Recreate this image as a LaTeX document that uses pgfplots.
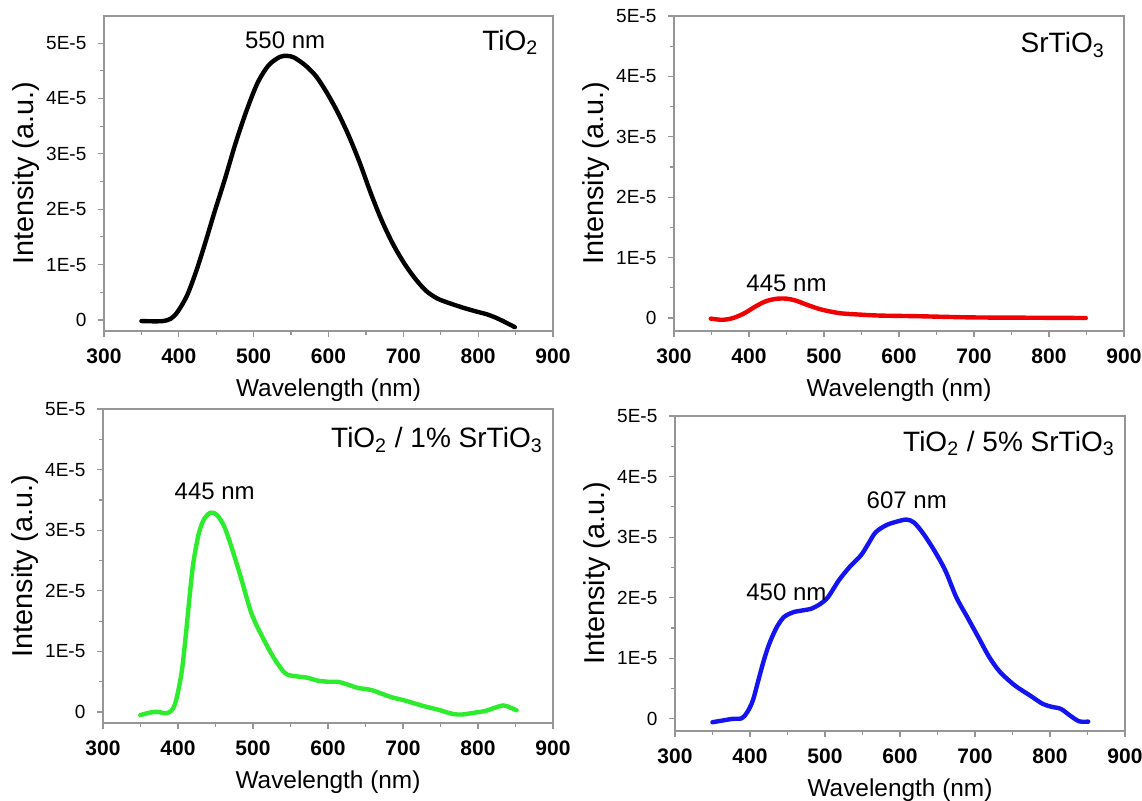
\documentclass[border=0pt]{standalone}
\usepackage{fontspec}
\setmainfont{Liberation Sans}
\usepackage{pgfplots}
\pgfplotsset{compat=1.18}

\definecolor{axgray}{RGB}{150,150,150}
\definecolor{plred}{RGB}{240,0,0}
\definecolor{plgreen}{RGB}{45,235,45}
\definecolor{plblue}{RGB}{20,20,240}

\tikzset{
  ann/.style={font=\fontsize{12}{14}\selectfont, anchor=base},
  ttl/.style={font=\fontsize{14}{16}\selectfont, anchor=base east, inner sep=0pt},
}

\pgfplotsset{
  pl/.style={
    scale only axis,
    width=225pt, height=157.5pt,
    xmin=300, xmax=900,
    xtick={300,400,500,600,700,800,900},
    xticklabels={300,400,500,600,700,800,900},
    minor x tick num=1,
    ytick={0,1e-5,2e-5,3e-5,4e-5,5e-5},
    yticklabels={0,1E-5,2E-5,3E-5,4E-5,5E-5},
    scaled y ticks=false,
    minor y tick num=1,
    tick align=outside,
    tick pos=left,
    axis line style={axgray, line width=0.6pt},
    every tick/.style={axgray, line width=0.6pt},
    major tick length=3pt,
    minor tick length=1.8pt,
    xticklabel style={font=\fontsize{10.5}{12}\selectfont\bfseries, yshift=-2.5pt},
    yticklabel style={font=\fontsize{9.5}{11}\selectfont, xshift=-2.3pt},
    xlabel={Wavelength (nm)},
    ylabel={Intensity (a.u.)},
    xlabel style={font=\fontsize{12.2}{14}\selectfont, at={(axis description cs:0.5,-0.2095)}, anchor=base},
    ylabel style={font=\fontsize{14.4}{16}\selectfont, at={(axis description cs:-0.156,0.5)}, anchor=base},
    clip=false,
  },
  curve/.style={line width=2.2pt, smooth, line join=round, line cap=round, no markers},
}

\begin{document}
\begin{tikzpicture}
\useasboundingbox (0,0) rectangle (571pt,-400.5pt);

% TiO2
\begin{axis}[pl, at={(52pt,-165.5pt)}, anchor=south west, width=224.5pt, ymin=-0.2e-5, ymax=5.49e-5]
\addplot[curve, black] coordinates {
(350,-0.02e-5) (365,-0.025e-5) (379,-0.02e-5) (389,0.02e-5) (398,0.14e-5)
(410.6,0.43e-5) (422.7,0.86e-5) (435,1.38e-5) (447,1.92e-5) (461.7,2.55e-5)
(476,3.2e-5) (491,3.8e-5) (505.5,4.29e-5) (520,4.6e-5) (534.8,4.75e-5)
(544.5,4.77e-5) (554,4.74e-5) (568.9,4.6e-5) (583.5,4.4e-5) (598,4.1e-5)
(612.7,3.74e-5) (627.3,3.32e-5) (642,2.83e-5) (656.5,2.29e-5) (671,1.8e-5)
(685.8,1.38e-5) (700.4,1.04e-5) (715,0.76e-5) (730,0.53e-5) (745,0.39e-5)
(760,0.31e-5) (780,0.22e-5) (798,0.15e-5) (812,0.1e-5) (827,0.02e-5) (849,-0.13e-5)
};
\node[ann] at (axis cs:542,4.9e-5) {550 nm};
\node[ttl] at (rel axis cs:0.968,0.892) {TiO\textsubscript{2}};
\end{axis}

% SrTiO3
\begin{axis}[pl, at={(337pt,-165.5pt)}, anchor=south west, ymin=-0.215e-5, ymax=5e-5]
\addplot[curve, plred] coordinates {
(349,-0.01e-5) (364.5,-0.03e-5) (379,0) (394,0.08e-5) (408.5,0.19e-5)
(423,0.28e-5) (438,0.32e-5) (450,0.32e-5) (462,0.29e-5) (477,0.22e-5)
(496.6,0.14e-5) (521,0.08e-5) (550,0.055e-5) (575,0.04e-5) (624,0.03e-5)
(697,0.01e-5) (770,0.005e-5) (849,0)
};
\node[ann] at (axis cs:450,0.44e-5) {445 nm};
\node[ttl] at (rel axis cs:0.958,0.8825) {SrTiO\textsubscript{3}};
\end{axis}

% TiO2 / 1% SrTiO3
\begin{axis}[pl, at={(51.5pt,-361.5pt)}, anchor=south west, height=157pt, ymin=-0.18e-5, ymax=5e-5]
\addplot[curve, plgreen] coordinates {
(349.7,-0.05e-5) (361.9,-0.01e-5) (371.6,0.005e-5) (383.8,-0.02e-5) (391,0.02e-5)
(396,0.13e-5) (400.8,0.38e-5) (405.7,0.73e-5) (410.6,1.29e-5) (415.4,1.9e-5)
(420.3,2.45e-5) (427.6,2.94e-5) (435,3.19e-5) (443.7,3.29e-5) (452,3.25e-5)
(461.7,3.06e-5) (471.4,2.72e-5) (483.6,2.23e-5) (498.2,1.62e-5) (512.9,1.23e-5)
(527.5,0.9e-5) (542,0.65e-5) (551.8,0.6e-5) (571.3,0.57e-5) (585.9,0.52e-5)
(600.5,0.5e-5) (612.7,0.5e-5) (624.9,0.46e-5) (639.5,0.4e-5) (659,0.36e-5)
(683.3,0.25e-5) (702.8,0.19e-5) (727.2,0.1e-5) (746.7,0.04e-5) (766.2,-0.03e-5)
(778.4,-0.04e-5) (795.4,-0.01e-5) (810,0.02e-5) (822,0.07e-5) (834,0.11e-5)
(844,0.07e-5) (851.4,0.03e-5)
};
\node[ann] at (axis cs:449,3.51e-5) {445 nm};
\node[ttl] at (rel axis cs:0.978,0.876) {TiO\textsubscript{2} / 1\% SrTiO\textsubscript{3}};
\end{axis}

% TiO2 / 5% SrTiO3
\begin{axis}[pl, at={(337.5pt,-365.5pt)}, anchor=south west, ymin=-0.2e-5, ymax=5e-5]
\addplot[curve, plblue] coordinates {
(349.9,-0.055e-5) (362,-0.03e-5) (376.8,0) (389,0.01e-5) (396.3,0.11e-5)
(403.7,0.3e-5) (411,0.63e-5) (418.3,0.96e-5) (425.7,1.24e-5) (435.5,1.51e-5)
(445.2,1.68e-5) (457.5,1.76e-5) (469.7,1.79e-5) (481.9,1.82e-5) (494,1.9e-5)
(504,2.01e-5) (518.6,2.29e-5) (533,2.51e-5) (547.9,2.7e-5) (557.7,2.89e-5)
(567.5,3.08e-5) (582,3.2e-5) (596.8,3.26e-5) (609,3.29e-5) (618.8,3.24e-5)
(631,3.06e-5) (645.7,2.78e-5) (660.4,2.45e-5) (675,2.01e-5) (689.7,1.68e-5)
(704.4,1.35e-5) (719,1.02e-5) (733.7,0.77e-5) (753.3,0.55e-5) (772.9,0.39e-5)
(790,0.25e-5) (802,0.2e-5) (814.5,0.165e-5) (826.7,0.055e-5) (838.9,-0.04e-5)
(851,-0.045e-5)
};
\node[ann] at (axis cs:609,3.48e-5) {607 nm};
\node[ann] at (axis cs:448.5,1.95e-5) {450 nm};
\node[ttl] at (rel axis cs:0.978,0.887) {TiO\textsubscript{2} / 5\% SrTiO\textsubscript{3}};
\end{axis}
\end{tikzpicture}
\end{document}
